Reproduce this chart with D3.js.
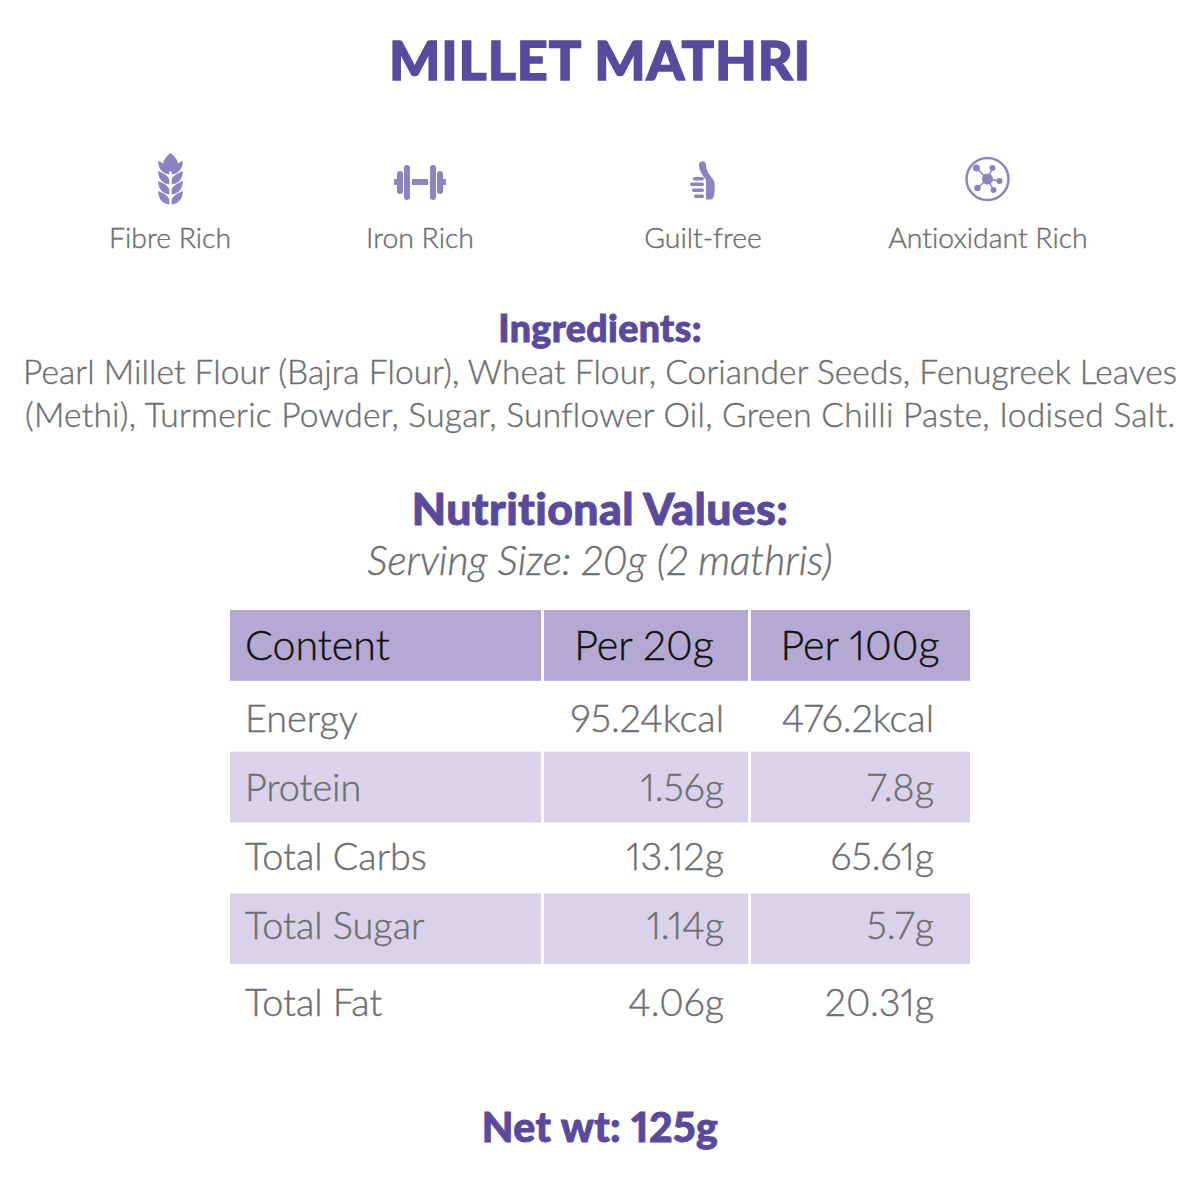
<!DOCTYPE html>
<html>
<head>
<meta charset="utf-8">
<script src="https://cdn.jsdelivr.net/npm/d3@7"></script>
<style>
  html, body { margin: 0; padding: 0; background: #fff; }
  text { font-family: Lato, sans-serif; font-variant-ligatures: none; font-variant-numeric: proportional-nums; font-feature-settings: "liga" 0, "pnum" 1; }
</style>
</head>
<body>
<svg id="chart" width="1200" height="1200"></svg>
<script>
const title = "MILLET MATHRI";
const benefits = ["Fibre Rich", "Iron Rich", "Guilt-free", "Antioxidant Rich"];
const ingredient_lines = [
  "Pearl Millet Flour (Bajra Flour), Wheat Flour, Coriander Seeds, Fenugreek Leaves",
  "(Methi), Turmeric Powder, Sugar, Sunflower Oil, Green Chilli Paste, Iodised Salt."
];
const columns = ["Content", "Per 20g", "Per 100g"];
const contents = ["Energy", "Protein", "Total Carbs", "Total Sugar", "Total Fat"];
const per_20g = ["95.24kcal", "1.56g", "13.12g", "1.14g", "4.06g"];
const per_100g = ["476.2kcal", "7.8g", "65.61g", "5.7g", "20.31g"];

const purple = "#5a4a9e", icon_purple = "#8f82c3", grey = "#6d6e71";
const header_fill = "#b4a9d2", stripe_fill = "#d9d2e9";

const svg = d3.select("#chart");

const x_col = d3.scaleOrdinal().domain(columns).range([230, 544, 751]);
const w_col = d3.scaleOrdinal().domain(columns).range([311, 204, 219]);
const y_row = d3.scaleBand()
  .domain(["header"].concat(contents))
  .range([610, 1035]);

// weight + a hairline stroke, the installed Lato weights are either too thin or too thick here
const add_text = function(x, y, str, size, fill, opts = {}){
  return svg.append("text")
    .attr("x", x)
    .attr("y", y)
    .attr("text-anchor", opts.anchor || "middle")
    .attr("font-size", size)
    .attr("font-weight", opts.weight || 300)
    .attr("font-style", opts.style || "normal")
    .attr("letter-spacing", opts.spacing || 0)
    .attr("fill", fill)
    .attr("stroke", fill)
    .attr("stroke-width", opts.stroke === undefined ? 0.4 : opts.stroke)
    .text(str);
};

// headings
add_text(600, 79.5, title, 54, purple, {weight: 900, stroke: 1.4, spacing: 0.9});
add_text(600, 342, "Ingredients:", 37.5, purple, {weight: 900, stroke: 0.9, spacing: 0.4});
add_text(600, 525, "Nutritional Values:", 44.5, purple, {weight: 900, stroke: 0.9, spacing: 0.4});
add_text(600, 575, "Serving Size: 20g (2 mathris)", 40.8, grey, {style: "italic"});
add_text(600, 1141.5, "Net wt: 125g", 41, purple, {weight: 900, stroke: 0.9, spacing: 0.4});

// benefits row
const benefit_x = d3.scaleOrdinal().domain(benefits).range([170, 420, 703, 988]);
benefits.forEach(function(d){
  add_text(benefit_x(d), 248, d, 28.4, grey);
});

// ingredients
const ingredient_width = [1154, 1150];
ingredient_lines.forEach(function(d, i){
  add_text(600, 384 + i * 43, d, 33.5, grey)
    .attr("textLength", ingredient_width[i])
    .attr("lengthAdjust", "spacing");
});

// icons
const wheat = svg.append("g").attr("transform", "translate(170.5,180)").attr("fill", icon_purple);
wheat.append("path").attr("d", "M0,-27 C5,-23 8,-19 7,-15 C6,-12 3,-10 0,-8 C-3,-10 -6,-12 -7,-15 C-8,-19 -5,-23 0,-27Z");
[-19, -9, 1, 11].forEach(function(t){
  [-1, 1].forEach(function(s){
    wheat.append("path")
      .attr("transform", `translate(0,${t}) scale(${s},1)`)
      .attr("d", "M1.2,13.5 C8,13 12,8 12.5,0 C7,2 1.8,5 1.2,9Z");
  });
});

const barbell = svg.append("g").attr("transform", "translate(420,182)").attr("fill", icon_purple);
[[-26,-3,4,6],[-23,-11,6,23],[-16,-17,6,35],[-8,-3,16,6],[10,-17,6,35],[17,-11,6,23],[23,-3,3,6]].forEach(function(r){
  barbell.append("rect").attr("x", r[0]).attr("y", r[1]).attr("width", r[2]).attr("height", r[3]).attr("rx", r[3] > 6 ? 3 : 0);
});

const thumb = svg.append("g").attr("transform", "translate(702,181)").attr("fill", icon_purple);
thumb.append("path").attr("d", "M-3,-16 C-3,-21 4,-21 4,-16 C4,-11 6,-8 10,-3 C13,0 13,5 12.5,11 C12,16 11,18 9,18.5 L4,18.5 L4,-1 C0,-6 -3,-11 -3,-16Z");
[[-9.3,-4,11.3],[-12,1.5,14],[-10,7.5,12],[-8,13.5,10]].forEach(function(r){
  thumb.append("rect").attr("x", r[0]).attr("y", r[1]).attr("width", r[2]).attr("height", 3.5).attr("rx", 1.7);
});

const molecule = svg.append("g").attr("transform", "translate(987.5,179)");
molecule.append("circle").attr("r", 21).attr("fill", "none").attr("stroke", icon_purple).attr("stroke-width", 2.5);
[[-11,-11,3.5],[5,-11,3],[12,2,3],[6,11,3],[-10,9,3.3]].forEach(function(p){
  molecule.append("line").attr("x2", p[0]).attr("y2", p[1]).attr("stroke", icon_purple).attr("stroke-width", 1.5);
  molecule.append("circle").attr("cx", p[0]).attr("cy", p[1]).attr("r", p[2]).attr("fill", icon_purple);
});
molecule.append("circle").attr("r", 5.5).attr("fill", icon_purple);

// table fills
const row_h = 70.8;
const filled = [["header", header_fill], ["Protein", stripe_fill], ["Total Sugar", stripe_fill]];
filled.forEach(function(f){
  svg.selectAll(null)
    .data(columns)
    .join("rect")
    .attr("x", (c) => x_col(c))
    .attr("y", y_row(f[0]))
    .attr("width", (c) => w_col(c))
    .attr("height", row_h)
    .attr("fill", f[1]);
});

// table header
const right_edge = d3.scaleOrdinal().domain(columns).range([0, 724, 934]);
const head_x = d3.scaleOrdinal().domain(columns).range([245, 644, 860]);
columns.forEach(function(c, i){
  add_text(head_x(c), y_row("header") + 50, c, 41.2, "#111", {anchor: i === 0 ? "start" : "middle"});
});

// table body
const row_shift = d3.scaleOrdinal().domain(contents).range([1, -1, -3, -4, 2]);
contents.forEach(function(name, i){
  const baseline = y_row(name) + 50 + row_shift(name);
  add_text(245, baseline, name, 37.8, grey, {anchor: "start"});
  add_text(right_edge("Per 20g"), baseline, per_20g[i], 37.8, grey, {anchor: "end"});
  add_text(right_edge("Per 100g"), baseline, per_100g[i], 37.8, grey, {anchor: "end"});
});
</script>
</body>
</html>
